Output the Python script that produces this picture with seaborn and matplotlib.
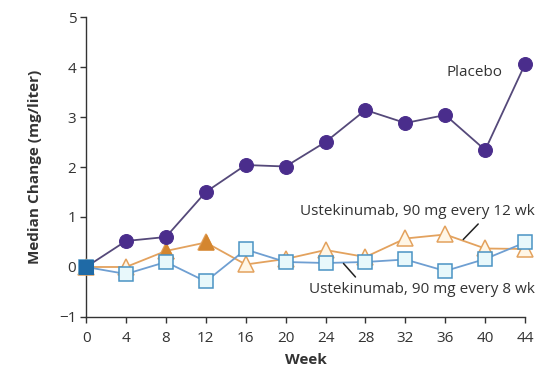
import numpy as np
import pandas as pd
import matplotlib
matplotlib.use("Agg")
import matplotlib.pyplot as plt
import seaborn as sns

weeks = [0, 4, 8, 12, 16, 20, 24, 28, 32, 36, 40, 44]
placebo = [0, 0.52, 0.60, 1.50, 2.04, 2.01, 2.50, 3.14, 2.88, 3.04, 2.34, 4.06]
uste_12wk = [0, 0.0, 0.32, 0.49, 0.05, 0.16, 0.34, 0.20, 0.57, 0.65, 0.37, 0.36]
uste_8wk = [0, -0.14, 0.10, -0.29, 0.35, 0.10, 0.08, 0.10, 0.15, -0.08, 0.16, 0.49]
filled_weeks_12wk = [8, 12]
x_ticks = [0, 4, 8, 12, 16, 20, 24, 28, 32, 36, 40, 44]
y_ticks = [-1, 0, 1, 2, 3, 4, 5]

df = pd.DataFrame({"week": weeks, "placebo": placebo,
                   "u12": uste_12wk, "u8": uste_8wk})

sns.set_theme(style="ticks")
plt.rcParams["font.family"] = ["Open Sans", "DejaVu Sans"]

fig = plt.figure(figsize=(5.38, 3.71), dpi=100)
ax = fig.add_axes([0.16, 0.1456, 0.816, 0.8085])

purple = "#4a2d8c"
orange = "#e3a25e"
orange_dark = "#d4862f"
blue_line = "#6f9fd2"
blue_edge = "#4a93c4"

# Ustekinumab every 12 wk
sns.lineplot(data=df, x="week", y="u12", ax=ax, color=orange, lw=1.3,
             marker="^", markersize=11, markerfacecolor="#fff6e6",
             markeredgecolor=orange, markeredgewidth=1.1, clip_on=False, zorder=3)
sub = df[df["week"].isin(filled_weeks_12wk)]
sns.scatterplot(data=sub, x="week", y="u12", ax=ax, marker="^", s=110,
                color=orange_dark, edgecolor=orange_dark, linewidth=1, zorder=4,
                clip_on=False)

# Ustekinumab every 8 wk
sns.lineplot(data=df, x="week", y="u8", ax=ax, color=blue_line, lw=1.3,
             marker="s", markersize=10, markerfacecolor="#e8f8fb",
             markeredgecolor=blue_edge, markeredgewidth=1.1, clip_on=False, zorder=5)

# Placebo
sns.lineplot(data=df, x="week", y="placebo", ax=ax, color="#55497a", lw=1.3,
             marker="o", markersize=10, markerfacecolor=purple,
             markeredgecolor=purple, clip_on=False, zorder=6)

# Baseline point
base = df[df["week"] == 0]
sns.scatterplot(data=base, x="week", y="u8", ax=ax, marker="s", s=90,
                color="#1f6aa6", edgecolor="#1f6aa6", zorder=7, clip_on=False)

ax.set_xlim(0, 44)
ax.set_ylim(-1, 5)
ax.set_xticks(x_ticks)
ax.set_yticks(y_ticks)
ax.set_yticklabels(["\u22121" if v < 0 else str(v) for v in y_ticks])
sns.despine(ax=ax)
for s in ["left", "bottom"]:
    ax.spines[s].set_color("#333333")
    ax.spines[s].set_linewidth(1.0)
ax.tick_params(axis="both", length=4, width=1, color="#333333",
               labelsize=11, labelcolor="#333333")
ax.tick_params(axis="x", pad=6)
ax.tick_params(axis="y", pad=3)
ax.set_xlabel("Week", fontsize=11, fontweight="bold", color="#333333", labelpad=5)
ax.set_ylabel("Median Change (mg/liter)", fontsize=11, fontweight="bold",
              color="#333333", labelpad=12)

ax.text(41.7, 3.9, "Placebo", fontsize=11, color="#333333",
        ha="right", va="center")
ax.text(45.0, 1.1, "Ustekinumab, 90 mg every 12 wk", fontsize=11,
        color="#333333", ha="right", va="center", clip_on=False)
ax.text(45.0, -0.46, "Ustekinumab, 90 mg every 8 wk", fontsize=11,
        color="#333333", ha="right", va="center", clip_on=False)
ax.plot([39.3, 37.8], [0.86, 0.55], color="#222222", lw=1.1, zorder=8)
ax.plot([25.8, 27.0], [0.07, -0.2], color="#222222", lw=1.1, zorder=8)

fig.savefig("out.png", dpi=100)
